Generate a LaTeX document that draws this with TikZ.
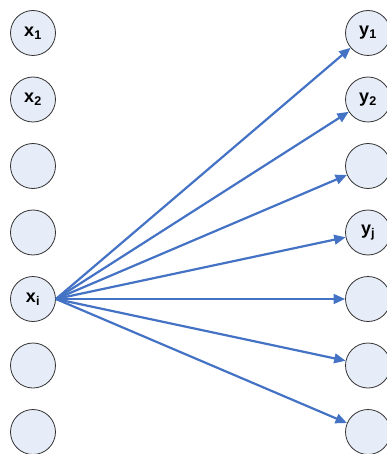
\documentclass[tikz,border=0pt]{standalone}
\usepackage{fontspec}
\setmainfont{Liberation Sans}
\usepackage{tikz}
\usetikzlibrary{arrows.meta,positioning}

\begin{document}
\begin{tikzpicture}[
    x=1pt, y=-1pt,
    font=\bfseries\fontsize{18}{20}\selectfont,
    unit/.style={draw=black!80, circle, minimum size=45pt, inner sep=0pt, fill=bgblue, line width=0.8pt},
    link/.style={-{Triangle[length=4mm, width=3.4mm]}, line width=2.2pt, draw=linkblue}
]
\definecolor{bgblue}{RGB}{231,237,248}
\definecolor{linkblue}{RGB}{68,114,196}
\useasboundingbox (0,0) rectangle (387,454);
% input and output units
\foreach \k/\lx/\ly in {1/x\textsubscript{1}/y\textsubscript{1},
                        2/x\textsubscript{2}/y\textsubscript{2},
                        3//, 4//y\textsubscript{j},
                        5/x\textsubscript{i}/, 6//, 7//} {
    \node[unit] (x\k) at (33, {33+66.5*(\k-1)}) {\lx};
    \node[unit] (y\k) at (368, {33+66.5*(\k-1)}) {\ly};
}
% connections from x_i
\foreach \k in {1,...,7}
    \draw[link] (x5.east) -- (y\k);
\end{tikzpicture}
\end{document}
